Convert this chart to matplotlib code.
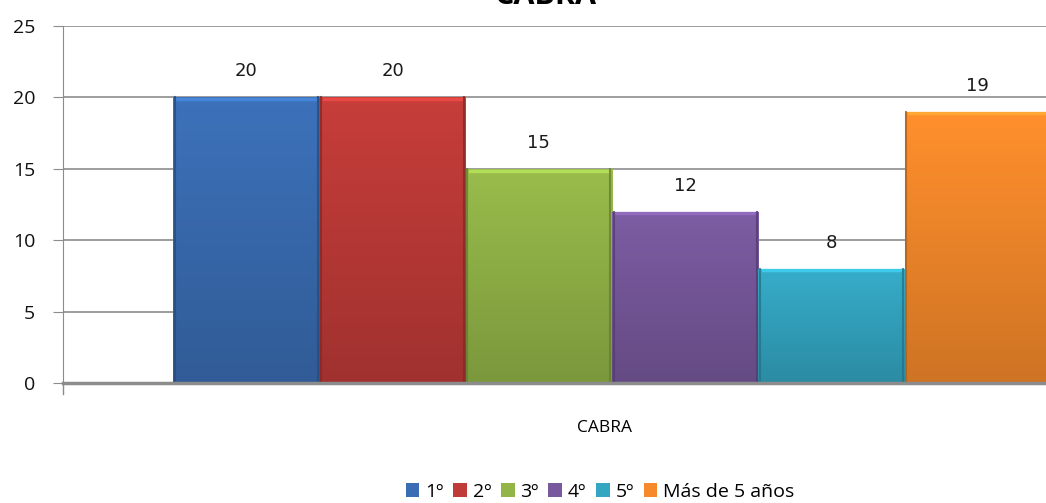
import numpy as np
import matplotlib
matplotlib.use('Agg')
import matplotlib.pyplot as plt
import matplotlib.colors as mcolors

plt.rcParams['font.family'] = ['Open Sans', 'DejaVu Sans']

categorias = ['1º', '2º', '3º', '4º', '5º', 'Más de 5 años']
valores = [20, 20, 15, 12, 8, 19]
colores = ['#3a6db3', '#bf3b38', '#93b548', '#78599d', '#34a6c2', '#f68a2b']
grupo = 'CABRA'

fig = plt.figure(figsize=(10.46, 5.03), dpi=100)
# el eje se sale por la derecha como en la imagen original
ax = fig.add_axes([63/1046, 1 - 383/503, 1098/1046, (383 - 26)/503])

x = np.arange(len(valores))
bars = ax.bar(x, valores, width=1.0, color=colores, zorder=3, label=categorias)

# degradado vertical suave y bisel
for b, c in zip(bars, colores):
    rgb = np.array(mcolors.to_rgb(c))
    grad = np.linspace(1.04, 0.84, 64)
    img = np.clip(grad[:, None, None] * rgb[None, None, :], 0, 1)
    x0, y0 = b.get_x(), b.get_y()
    w, h = b.get_width(), b.get_height()
    im = ax.imshow(img, extent=[x0, x0 + w, y0, y0 + h], aspect='auto',
                   origin='upper', zorder=4, interpolation='bilinear')
    im.set_clip_path(b)
    ax.plot([x0 + 0.03, x0 + w - 0.03], [y0 + h - 0.12, y0 + h - 0.12],
            color=np.clip(rgb * 1.3, 0, 1), lw=2.5, zorder=5, alpha=0.7)
    for xe in (x0 + 0.012, x0 + w - 0.012):
        ax.plot([xe, xe], [y0, y0 + h], color=rgb * 0.7, lw=1.5, zorder=5,
                alpha=0.8)

for xi, v in zip(x, valores):
    ax.text(xi, v + 1.2, str(v), ha='center', va='bottom', fontsize=13,
            color='#1a1a1a', family=['DejaVu Sans'])

ax.set_xlim(-1.252, 6.252)
ax.set_ylim(0, 25)
ax.set_yticks([0, 5, 10, 15, 20, 25])
ax.set_xticks([])
ax.yaxis.grid(True, color='#8c8c8c', lw=1.2, zorder=0)
ax.tick_params(axis='y', length=7, color='#8c8c8c', labelsize=14, pad=13,
               labelcolor='#111111')
for s in ['top', 'right']:
    ax.spines[s].set_visible(False)
ax.spines['left'].set_color('#8c8c8c')
ax.spines['bottom'].set_color('#8c8c8c')
ax.spines['bottom'].set_linewidth(2.5)
ax.spines['bottom'].set_zorder(6)
ax.plot([-1.252, -1.252], [0, -0.8], color='#8c8c8c', lw=1, clip_on=False)

fig.text(605/1046, 1 - 428/503, grupo, ha='center', va='center', fontsize=12.5)
fig.text(545/1046, 1.0 + 4/503, grupo, ha='center', va='center', fontsize=22,
         fontweight='bold')

ax.legend(handles=list(bars), labels=categorias, loc='center',
          bbox_to_anchor=(600/1046, 1 - 492/503), bbox_transform=fig.transFigure,
          ncol=6, frameon=False, fontsize=14, handlelength=0.7, handleheight=0.7,
          handletextpad=0.3, columnspacing=0.5, borderpad=0)

fig.savefig('out.png', dpi=100)
